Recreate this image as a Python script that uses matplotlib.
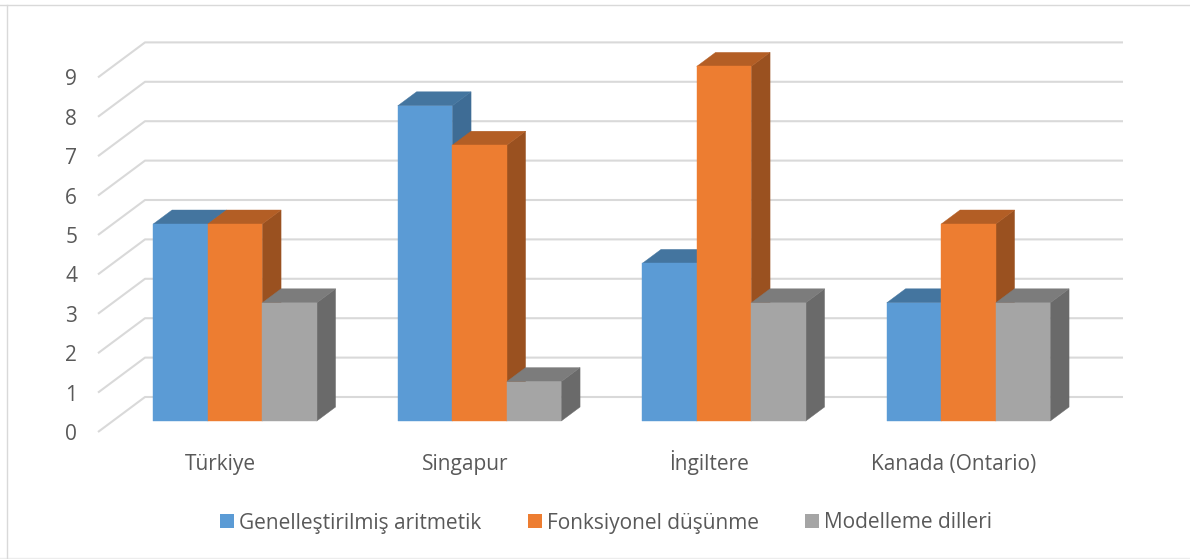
import matplotlib
matplotlib.use('Agg')
import matplotlib.pyplot as plt
from matplotlib.patches import Patch, Polygon

ulkeler = ['Türkiye', 'Singapur', 'İngiltere', 'Kanada (Ontario)']
genellestirilmis = [5, 8, 4, 3]
fonksiyonel = [5, 7, 9, 5]
modelleme = [3, 1, 3, 3]
seri_adlari = ['Genelleştirilmiş aritmetik', 'Fonksiyonel düşünme', 'Modelleme dilleri']
y_ticks = [0, 1, 2, 3, 4, 5, 6, 7, 8, 9]

# on yuz, ust yuz, yan yuz renkleri
renkler = [('#5B9BD5', '#44759F', '#3E6C95'),
           ('#ED7D31', '#B35E25', '#9A5120'),
           ('#A5A5A5', '#7C7C7C', '#6A6A6A')]

W, H = 1190, 559
plt.rcParams['font.family'] = ['Open Sans', 'DejaVu Sans']

fig = plt.figure(figsize=(W / 100, H / 100), dpi=100)
# on duzlem: x 98-1076 piksel, deger 0-9 -> 432-77 piksel
ax = fig.add_axes([98 / W, 1 - 432 / H, 978 / W, 354.6 / H])
ax.set_xlim(-0.5, 3.5)
ax.set_ylim(0, 9)
for s in ax.spines.values():
    s.set_visible(False)

# derinlik yonundeki kayma (veri birimi)
dx = 47 / 244.5
dy = 35 / 39.4


def nokta(x, y, d):
    return (x + d * dx, y + d * dy)


for v in y_ticks:
    xs = [-0.5, -0.5 + dx, 3.5 + dx]
    ys = [v, v + dy, v + dy]
    ax.plot(xs, ys, color='#D9D9D9', lw=1.5, clip_on=False, zorder=1, solid_capstyle='butt')

gen = 54.5 / 244.5
d0, d1 = 0.314, 0.714
seriler = [genellestirilmis, fonksiyonel, modelleme]
z = 2
for i in range(len(ulkeler)):
    for j, seri in enumerate(seriler):
        x0 = i + (j - 1.5) * gen
        x1 = x0 + gen
        y = seri[i]
        on, ust, yan = renkler[j]
        yuzler = [
            ([nokta(x1, 0, d0), nokta(x1, 0, d1), nokta(x1, y, d1), nokta(x1, y, d0)], yan),
            ([nokta(x0, y, d0), nokta(x0, y, d1), nokta(x1, y, d1), nokta(x1, y, d0)], ust),
            ([nokta(x0, 0, d0), nokta(x1, 0, d0), nokta(x1, y, d0), nokta(x0, y, d0)], on),
        ]
        for koseler, renk in yuzler:
            ax.add_patch(Polygon(koseler, closed=True, facecolor=renk, edgecolor=renk, lw=0.3,
                                 clip_on=False, zorder=z))
        z += 1

ax.set_xticks(range(len(ulkeler)))
ax.set_xticklabels([])
ax.set_yticks(y_ticks)
ax.tick_params(axis='both', length=0, labelsize=15, labelcolor='#595959')
ax.tick_params(axis='y', pad=15)

# kategori adlari ayni taban cizgisinde dursun
for i, ad in enumerate(ulkeler):
    ax.annotate(ad, xy=(i, 0), xytext=(0, -27.7), textcoords='offset points', ha='center',
                va='baseline', fontsize=15, color='#595959', annotation_clip=False)

tutamaclar = [Patch(facecolor=r[0], label=ad) for r, ad in zip(renkler, seri_adlari)]
fig.legend(handles=tutamaclar, loc='center', bbox_to_anchor=(606 / W, 1 - 523 / H), ncol=3,
           frameon=False, fontsize=15, labelcolor='#595959', handlelength=0.67, handleheight=0.67,
           handletextpad=0.25, columnspacing=2.2)

# grafik cercevesi
fig.add_artist(plt.Line2D([0, 1], [1 - 5 / H, 1 - 5 / H], color='#D9D9D9', lw=1))
fig.add_artist(plt.Line2D([0, 1], [1 - 558 / H, 1 - 558 / H], color='#EDEDED', lw=1))
fig.add_artist(plt.Line2D([6.5 / W, 6.5 / W], [1 - 5 / H, 1 - 558 / H], color='#D9D9D9', lw=1))

fig.savefig('out.png', dpi=100)
